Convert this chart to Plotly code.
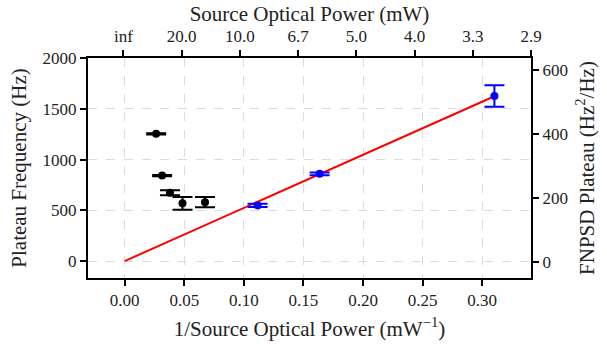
import plotly.graph_objects as go

# ---- data ----
x_black = [0.0264, 0.0314, 0.0380, 0.0485, 0.0674]
y_black = [1255, 843, 673, 569, 581]
yerr_black = [6, 6, 25, 62, 51]

x_blue = [0.1115, 0.1636, 0.3103]
y_blue = [549, 860, 1627]
yerr_blue = [17, 13, 106]

fit_x = [0.0, 0.3103]
fit_y = [0.0, 1625.0]

bottom_ticks = [0.00, 0.05, 0.10, 0.15, 0.20, 0.25, 0.30]
bottom_labels = ["0.00", "0.05", "0.10", "0.15", "0.20", "0.25", "0.30"]
top_ticks = [0.00, 0.05, 0.10, 0.15, 0.20, 0.25, 0.30, 0.35]
top_labels = ["inf", "20.0", "10.0", "6.7", "5.0", "4.0", "3.3", "2.9"]
left_ticks = [0, 500, 1000, 1500, 2000]
right_ticks = [0, 200, 400, 600]

FONT = "'Liberation Serif', 'Times New Roman', serif"
TICKF = dict(family=FONT, size=17, color="#222")
TITLEF = dict(family=FONT, size=21, color="#222")

fig = go.Figure()
fig.add_trace(go.Scatter(x=fit_x, y=fit_y, mode="lines",
                         line=dict(color="red", width=2), showlegend=False))
fig.add_trace(go.Scatter(x=x_black, y=y_black, mode="markers",
                         marker=dict(color="black", size=8),
                         error_y=dict(type="data", array=yerr_black, color="black",
                                      thickness=2, width=10),
                         showlegend=False))
fig.add_trace(go.Scatter(x=x_blue, y=y_blue, mode="markers",
                         marker=dict(color="blue", size=8),
                         error_y=dict(type="data", array=yerr_blue, color="blue",
                                      thickness=2, width=10),
                         showlegend=False))
fig.add_trace(go.Scatter(x=[None], y=[None], xaxis="x2", yaxis="y2",
                         mode="markers", showlegend=False, hoverinfo="skip"))

common = dict(ticks="outside", ticklen=6, tickwidth=1.5, tickcolor="black",
              showline=True, linewidth=2, linecolor="black", zeroline=False,
              tickfont=TICKF)
grid = dict(showgrid=True, gridcolor="#dcdcdc", griddash="dash", gridwidth=1)

fig.update_layout(
    width=607, height=349,
    margin=dict(l=88, r=72, t=58, b=69),
    plot_bgcolor="white", paper_bgcolor="white",
    showlegend=False,
    xaxis=dict(range=[-0.0308, 0.341], tickvals=bottom_ticks, ticktext=bottom_labels,
               title=dict(text="1/Source Optical Power (mW<sup>−1</sup>)", font=TITLEF, standoff=12),
               **common, **grid),
    yaxis=dict(range=[-167, 2002], tickvals=left_ticks,
               title=dict(text="Plateau Frequency (Hz)", font=TITLEF, standoff=10),
               **common, **grid),
    xaxis2=dict(overlaying="x", side="top", anchor="y", range=[-0.0304, 0.35],
                tickvals=top_ticks, ticktext=top_labels, showgrid=False,
                ticklabelstandoff=1,
                title=dict(text="Source Optical Power (mW)", font=TITLEF, standoff=0),
                **common),
    yaxis2=dict(overlaying="y", side="right", anchor="x", range=[-50, 636],
                tickvals=right_ticks, showgrid=False,
                title=dict(text="FNPSD Plateau (Hz<sup>2</sup>/Hz)", font=TITLEF, standoff=12),
                **common),
)

fig.write_html("out.html", config={"displayModeBar": False},
               post_script="document.body.style.margin='0';")
